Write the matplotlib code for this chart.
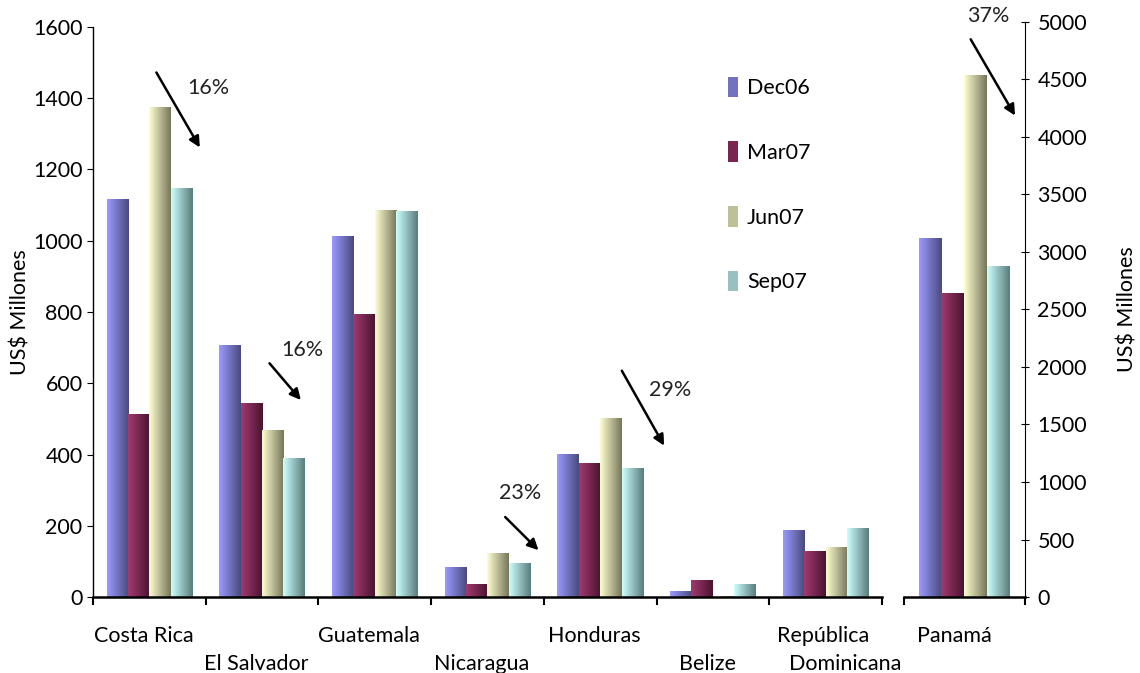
import numpy as np
import matplotlib
matplotlib.use("Agg")
import matplotlib.pyplot as plt
from matplotlib.colors import LinearSegmentedColormap
from matplotlib.patches import Patch

plt.rcParams['font.family'] = ['Lato', 'DejaVu Sans']
FS = 15.5

# data (US$ millones)
countries = ["Costa Rica", "El Salvador", "Guatemala", "Nicaragua",
             "Honduras", "Belize", "República\nDominicana"]
series = ["Dec06", "Mar07", "Jun07", "Sep07"]
dec06 = [1117, 705, 1011, 84, 401, 16, 188]
mar07 = [511, 542, 792, 36, 376, 45, 129]
jun07 = [1375, 466, 1086, 123, 500, 2, 138]
sep07 = [1148, 390, 1081, 95, 362, 34, 191]

panama_label = "Panamá"
panama = [3113, 2635, 4530, 2870]

# arrows: (x_start, y_start, x_end, y_end, text_x, text_y, label)
arrows_left = [
    (0.05, 1479, 0.46, 1255, 0.52, 1430, "16%"),
    (1.05, 662, 1.36, 547, 1.36, 693, "16%"),
    (3.14, 230, 3.47, 126, 3.29, 292, "23%"),
    (4.18, 642, 4.58, 418, 4.62, 580, "29%"),
]
arrow_panama = (0.04, 4870, 0.43, 4165, 0.2, 5055, "37%")

light = ["#9a9aff", "#a23a70", "#ffffd0", "#ccffff"]
dark = ["#4a4a7e", "#4a1430", "#76765c", "#5a7c7c"]
mid = ["#7272c0", "#7a2450", "#c0c096", "#98c0c0"]

def gradient_bars(ax, bars, c1, c2):
    cmap = LinearSegmentedColormap.from_list("g", [c1, c2])
    grad = np.linspace(0, 1, 64).reshape(1, -1)
    for b in bars:
        x, w, h = b.get_x(), b.get_width(), b.get_height()
        ax.imshow(grad, cmap=cmap, aspect="auto", extent=[x, x + w, 0, h],
                  zorder=2, interpolation="bilinear")
        b.set_visible(False)

fig = plt.figure(figsize=(11.4, 6.73), dpi=100)
ax = fig.add_axes([0.0816, 0.1129, 0.692, 0.847])
ax2 = fig.add_axes([0.793, 0.1129, 0.106, 0.8545])

w = 0.19
x = np.arange(len(countries))
for i, vals in enumerate([dec06, mar07, jun07, sep07]):
    bars = ax.bar(x + (i - 1.5) * w, vals, w)
    gradient_bars(ax, bars, light[i], dark[i])
    bars2 = ax2.bar([(i - 1.5) * w], [panama[i]], w)
    gradient_bars(ax2, bars2, light[i], dark[i])

ax.set_xlim(-0.5, len(countries) - 0.5)
ax.set_ylim(0, 1600)
ax.set_yticks(range(0, 1601, 200))
ax.set_xticks(np.arange(-0.5, len(countries), 1))
ax.set_xticklabels([])
ax.tick_params(axis="x", direction="out", length=6, width=1.5)
ax.tick_params(axis="y", direction="out", length=4, labelsize=FS)
for s in ["top", "right"]:
    ax.spines[s].set_visible(False)
ax.spines["bottom"].set_linewidth(1.8)
ax.spines["left"].set_linewidth(1.0)
ax.set_ylabel("US$ Millones", fontsize=FS, labelpad=2)

# staggered category labels
for i, name in enumerate(countries):
    if "\n" in name:
        a, b = name.split("\n")
        ax.text(i - 0.02, -0.05, a, transform=ax.get_xaxis_transform(),
                ha="center", va="top", fontsize=FS)
        ax.text(i + 0.17, -0.1, b, transform=ax.get_xaxis_transform(),
                ha="center", va="top", fontsize=FS)
    else:
        yy = -0.05 if i % 2 == 0 else -0.1
        ax.text(i - 0.05, yy, name, transform=ax.get_xaxis_transform(),
                ha="center", va="top", fontsize=FS)

ax2.set_xlim(-0.5, 0.5)
ax2.set_ylim(0, 5000)
ax2.set_yticks(range(0, 5001, 500))
ax2.set_xticks([-0.5, 0.5])
ax2.set_xticklabels([])
ax2.tick_params(axis="x", direction="out", length=6, width=1.5)
ax2.yaxis.tick_right()
ax2.yaxis.set_label_position("right")
ax2.tick_params(axis="y", direction="inout", length=6, labelsize=FS, pad=6)
for s in ["top", "left"]:
    ax2.spines[s].set_visible(False)
ax2.spines["bottom"].set_linewidth(1.8)
ax2.set_ylabel("US$ Millones", fontsize=FS, labelpad=22)
ax2.text(-0.08, -0.05, panama_label, transform=ax2.get_xaxis_transform(),
         ha="center", va="top", fontsize=FS)

for x0, y0, x1, y1, tx, ty, lab in arrows_left:
    ax.annotate("", xy=(x1, y1), xytext=(x0, y0),
                arrowprops=dict(arrowstyle="-|>", color="black", lw=1.8,
                                mutation_scale=16))
    ax.text(tx, ty, lab, ha="center", va="center", fontsize=FS, color="#222222")

x0, y0, x1, y1, tx, ty, lab = arrow_panama
ax2.annotate("", xy=(x1, y1), xytext=(x0, y0),
             arrowprops=dict(arrowstyle="-|>", color="black", lw=1.8,
                             mutation_scale=16), annotation_clip=False)
ax2.text(tx, ty, lab, ha="center", va="center", fontsize=FS,
         color="#222222", clip_on=False)

handles = [Patch(facecolor=mid[i], label=series[i]) for i in range(4)]
ax.legend(handles=handles, loc="upper left", bbox_to_anchor=(0.78, 0.947),
          frameon=False, fontsize=FS, handlelength=0.5, handleheight=1.1,
          handletextpad=0.4, labelspacing=2.0)

fig.savefig("out.png", dpi=100)
